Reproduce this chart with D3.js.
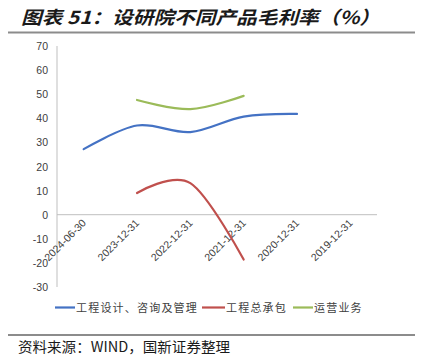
<!DOCTYPE html>
<html><head><meta charset="utf-8">
<script src="https://cdn.jsdelivr.net/npm/d3@7"></script>
<style>body{margin:0;background:#fff}svg{display:block}</style>
</head><body>
<script>
const categories = ["2024-06-30","2023-12-31","2022-12-31","2021-12-31","2020-12-31","2019-12-31"];
const seriesNames = ["工程设计、咨询及管理","工程总承包","运营业务"];
const seriesColors = ["#4472C4","#C0504D","#9BBB59"];
const engDesign = [27.2, 37.0, 34.3, 40.7, 41.8, null];
const epc = [null, 9.0, 13.1, -18.6, null, null];
const operation = [null, 47.6, 43.8, 49.3, null, null];
const yTicks = [70,60,50,40,30,20,10,0,-10,-20,-30];
const title = "图表 51：设研院不同产品毛利率（%）";
const source = "资料来源：WIND，国新证券整理";

const W=424,H=364;
const svg=d3.select("body").append("svg").attr("width",W).attr("height",H);
const cjk="'Noto Sans CJK SC','Noto Sans',sans-serif";
const latin="'Liberation Sans',Arial,sans-serif";

svg.append("text").attr("x",21).attr("y",24).attr("font-family",cjk).attr("font-size",18)
  .attr("font-weight","bold").attr("font-style","italic").attr("fill","#1a1a1a")
  .attr("textLength",359).attr("lengthAdjust","spacingAndGlyphs").text(title);
svg.append("line").attr("x1",8).attr("x2",415).attr("y1",32.5).attr("y2",32.5).attr("stroke","#8c8c8c").attr("stroke-width",2);

const x=d3.scalePoint().domain(categories).range([57,377]).padding(0.5);
const y=d3.scaleLinear().domain([-30,70]).range([287,46]);

// axes
svg.append("line").attr("x1",57).attr("x2",57).attr("y1",y(70)).attr("y2",y(-30)).attr("stroke","#bfbfbf");
svg.append("line").attr("x1",57).attr("x2",377).attr("y1",y(0)).attr("y2",y(0)).attr("stroke","#bfbfbf");
svg.selectAll(".yt").data(yTicks).enter().append("text").attr("x",48).attr("y",d=>y(d)+4)
  .attr("text-anchor","end").attr("font-family",latin).attr("font-size",10.5).attr("fill","#404040").text(d=>d);
svg.selectAll(".xt").data(categories).enter().append("text")
  .attr("transform",d=>`translate(${x(d)+3},${y(0)+9}) rotate(-45)`)
  .attr("text-anchor","end").attr("font-family",latin).attr("font-size",10.5).attr("fill","#404040").text(d=>d);

const line=d3.line().defined(d=>d.v!=null).x(d=>x(d.c)).y(d=>y(d.v)).curve(d3.curveCardinal.tension(0));
[engDesign,epc,operation].forEach((s,i)=>{
  const pts=categories.map((c,j)=>({c,v:s[j]})).filter(d=>d.v!=null);
  svg.append("path").attr("d",line(pts)).attr("fill","none").attr("stroke",seriesColors[i]).attr("stroke-width",2.2).attr("stroke-linecap","round");
});

// legend
const legX=[55,202,293], legW=[20,23,20];
seriesNames.forEach((n,i)=>{
  svg.append("line").attr("x1",legX[i]).attr("x2",legX[i]+legW[i]).attr("y1",307.5).attr("y2",307.5).attr("stroke",seriesColors[i]).attr("stroke-width",2.2);
  svg.append("text").attr("x",legX[i]+legW[i]+1).attr("y",311.5).attr("font-family",cjk).attr("font-size",11)
    .attr("letter-spacing",1.2).attr("fill","#404040").text(n);
});

svg.append("line").attr("x1",8).attr("x2",415).attr("y1",335).attr("y2",335).attr("stroke","#8c8c8c").attr("stroke-width",2);
svg.append("text").attr("x",18).attr("y",352).attr("font-family",cjk).attr("font-size",14).attr("fill","#1a1a1a")
  .attr("textLength",212).attr("lengthAdjust","spacingAndGlyphs").text(source);
</script>
</body></html>
